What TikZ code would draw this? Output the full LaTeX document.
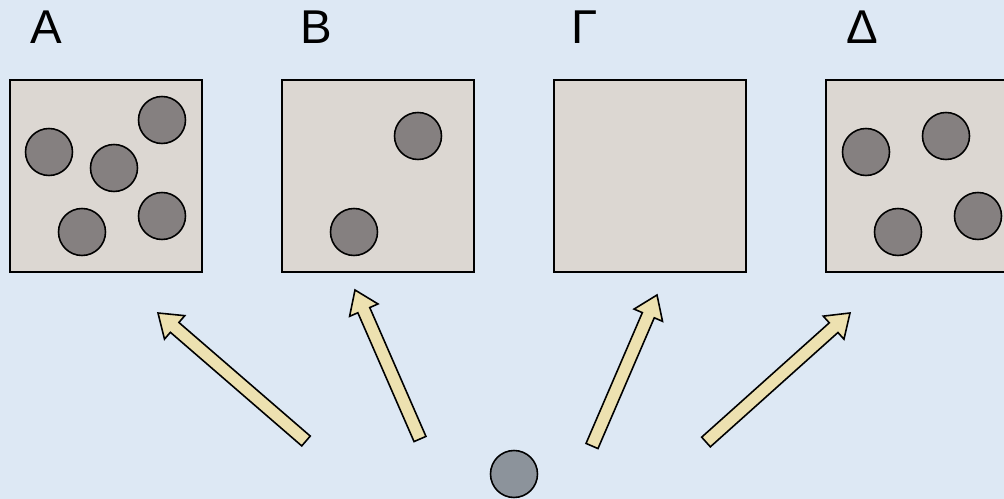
\documentclass[tikz,border=0pt]{standalone}
\usepackage{fontspec}
\setmainfont{Liberation Sans}
\usetikzlibrary{calc}

\definecolor{skyblue}{HTML}{DDE8F4}
\definecolor{boardgray}{HTML}{DCD7D2}
\definecolor{stonegray}{HTML}{858080}
\definecolor{probegray}{HTML}{8C939B}
\definecolor{arrowtan}{HTML}{EDE1B0}

\tikzset{
  board/.style={
    draw,
    line width=0.9pt,
    fill=boardgray,
    minimum width=3.84cm,
    minimum height=3.84cm,
    inner sep=0pt
  },
  stone/.style={
    draw,
    circle,
    line width=0.9pt,
    fill=stonegray,
    minimum size=0.94cm,
    inner sep=0pt
  },
  probe/.style={
    stone,
    fill=probegray
  },
  letter/.style={
    font=\fontsize{27}{32}\selectfont,
    inner sep=0pt
  },
  fatarrow/.style={
    draw,
    line width=0.9pt,
    line join=miter,
    fill=arrowtan
  }
}

% block arrow from #1 to #2
\newcommand{\blockarrow}[2]{%
  \path ($(#2)!0.44cm!(#1)$) coordinate (neck);
  \draw[fatarrow] ($(#1)!0.13cm!90:(#2)$) -- ($(neck)!0.13cm!90:(#2)$)
    -- ($(neck)!0.31cm!90:(#2)$) -- (#2) -- ($(neck)!0.31cm!-90:(#2)$)
    -- ($(neck)!0.13cm!-90:(#2)$) -- ($(#1)!0.13cm!-90:(#2)$) -- cycle;}

\begin{document}
\begin{tikzpicture}[x=0.02cm,y=-0.02cm]
  \fill[skyblue] (0,0) rectangle (1004,499);
  \useasboundingbox (0,0) rectangle (1004,499);
  \clip (0,0) rectangle (1004,499);

  % labels
  \node[letter] (la) at (46,27) {Α};
  \node[letter] (lb) at (316,27) {Β};
  \node[letter] (lg) at (585,27) {Γ};
  \node[letter] (ld) at (862,27) {Δ};

  % boards
  \node[board] (ba) at (106,176) {};
  \node[board] (bb) at (378,176) {};
  \node[board] (bg) at (650,176) {};
  \node[board] (bd) at (922,176) {};

  % stones on board A
  \node[stone] (a1) at (49,152) {};
  \node[stone] (a2) at (162,120) {};
  \node[stone] (a3) at (114,168) {};
  \node[stone] (a4) at (82,232) {};
  \node[stone] (a5) at (162,216) {};

  % stones on board B
  \node[stone] (b1) at (418,136) {};
  \node[stone] (b2) at (354,232) {};

  % stones on board Delta
  \node[stone] (d1) at (866,152) {};
  \node[stone] (d2) at (946,136) {};
  \node[stone] (d3) at (898,232) {};
  \node[stone] (d4) at (978,216) {};

  % the loose stone
  \node[probe] (p) at (514,474) {};

  % arrow ends
  \coordinate (t1) at (306,441);
  \coordinate (h1) at (158,313);
  \coordinate (t2) at (420,439);
  \coordinate (h2) at (355,290);
  \coordinate (t3) at (592,446);
  \coordinate (h3) at (657,295);
  \coordinate (t4) at (706,442);
  \coordinate (h4) at (850,313);

  \blockarrow{t1}{h1}
  \blockarrow{t2}{h2}
  \blockarrow{t3}{h3}
  \blockarrow{t4}{h4}
\end{tikzpicture}
\end{document}
